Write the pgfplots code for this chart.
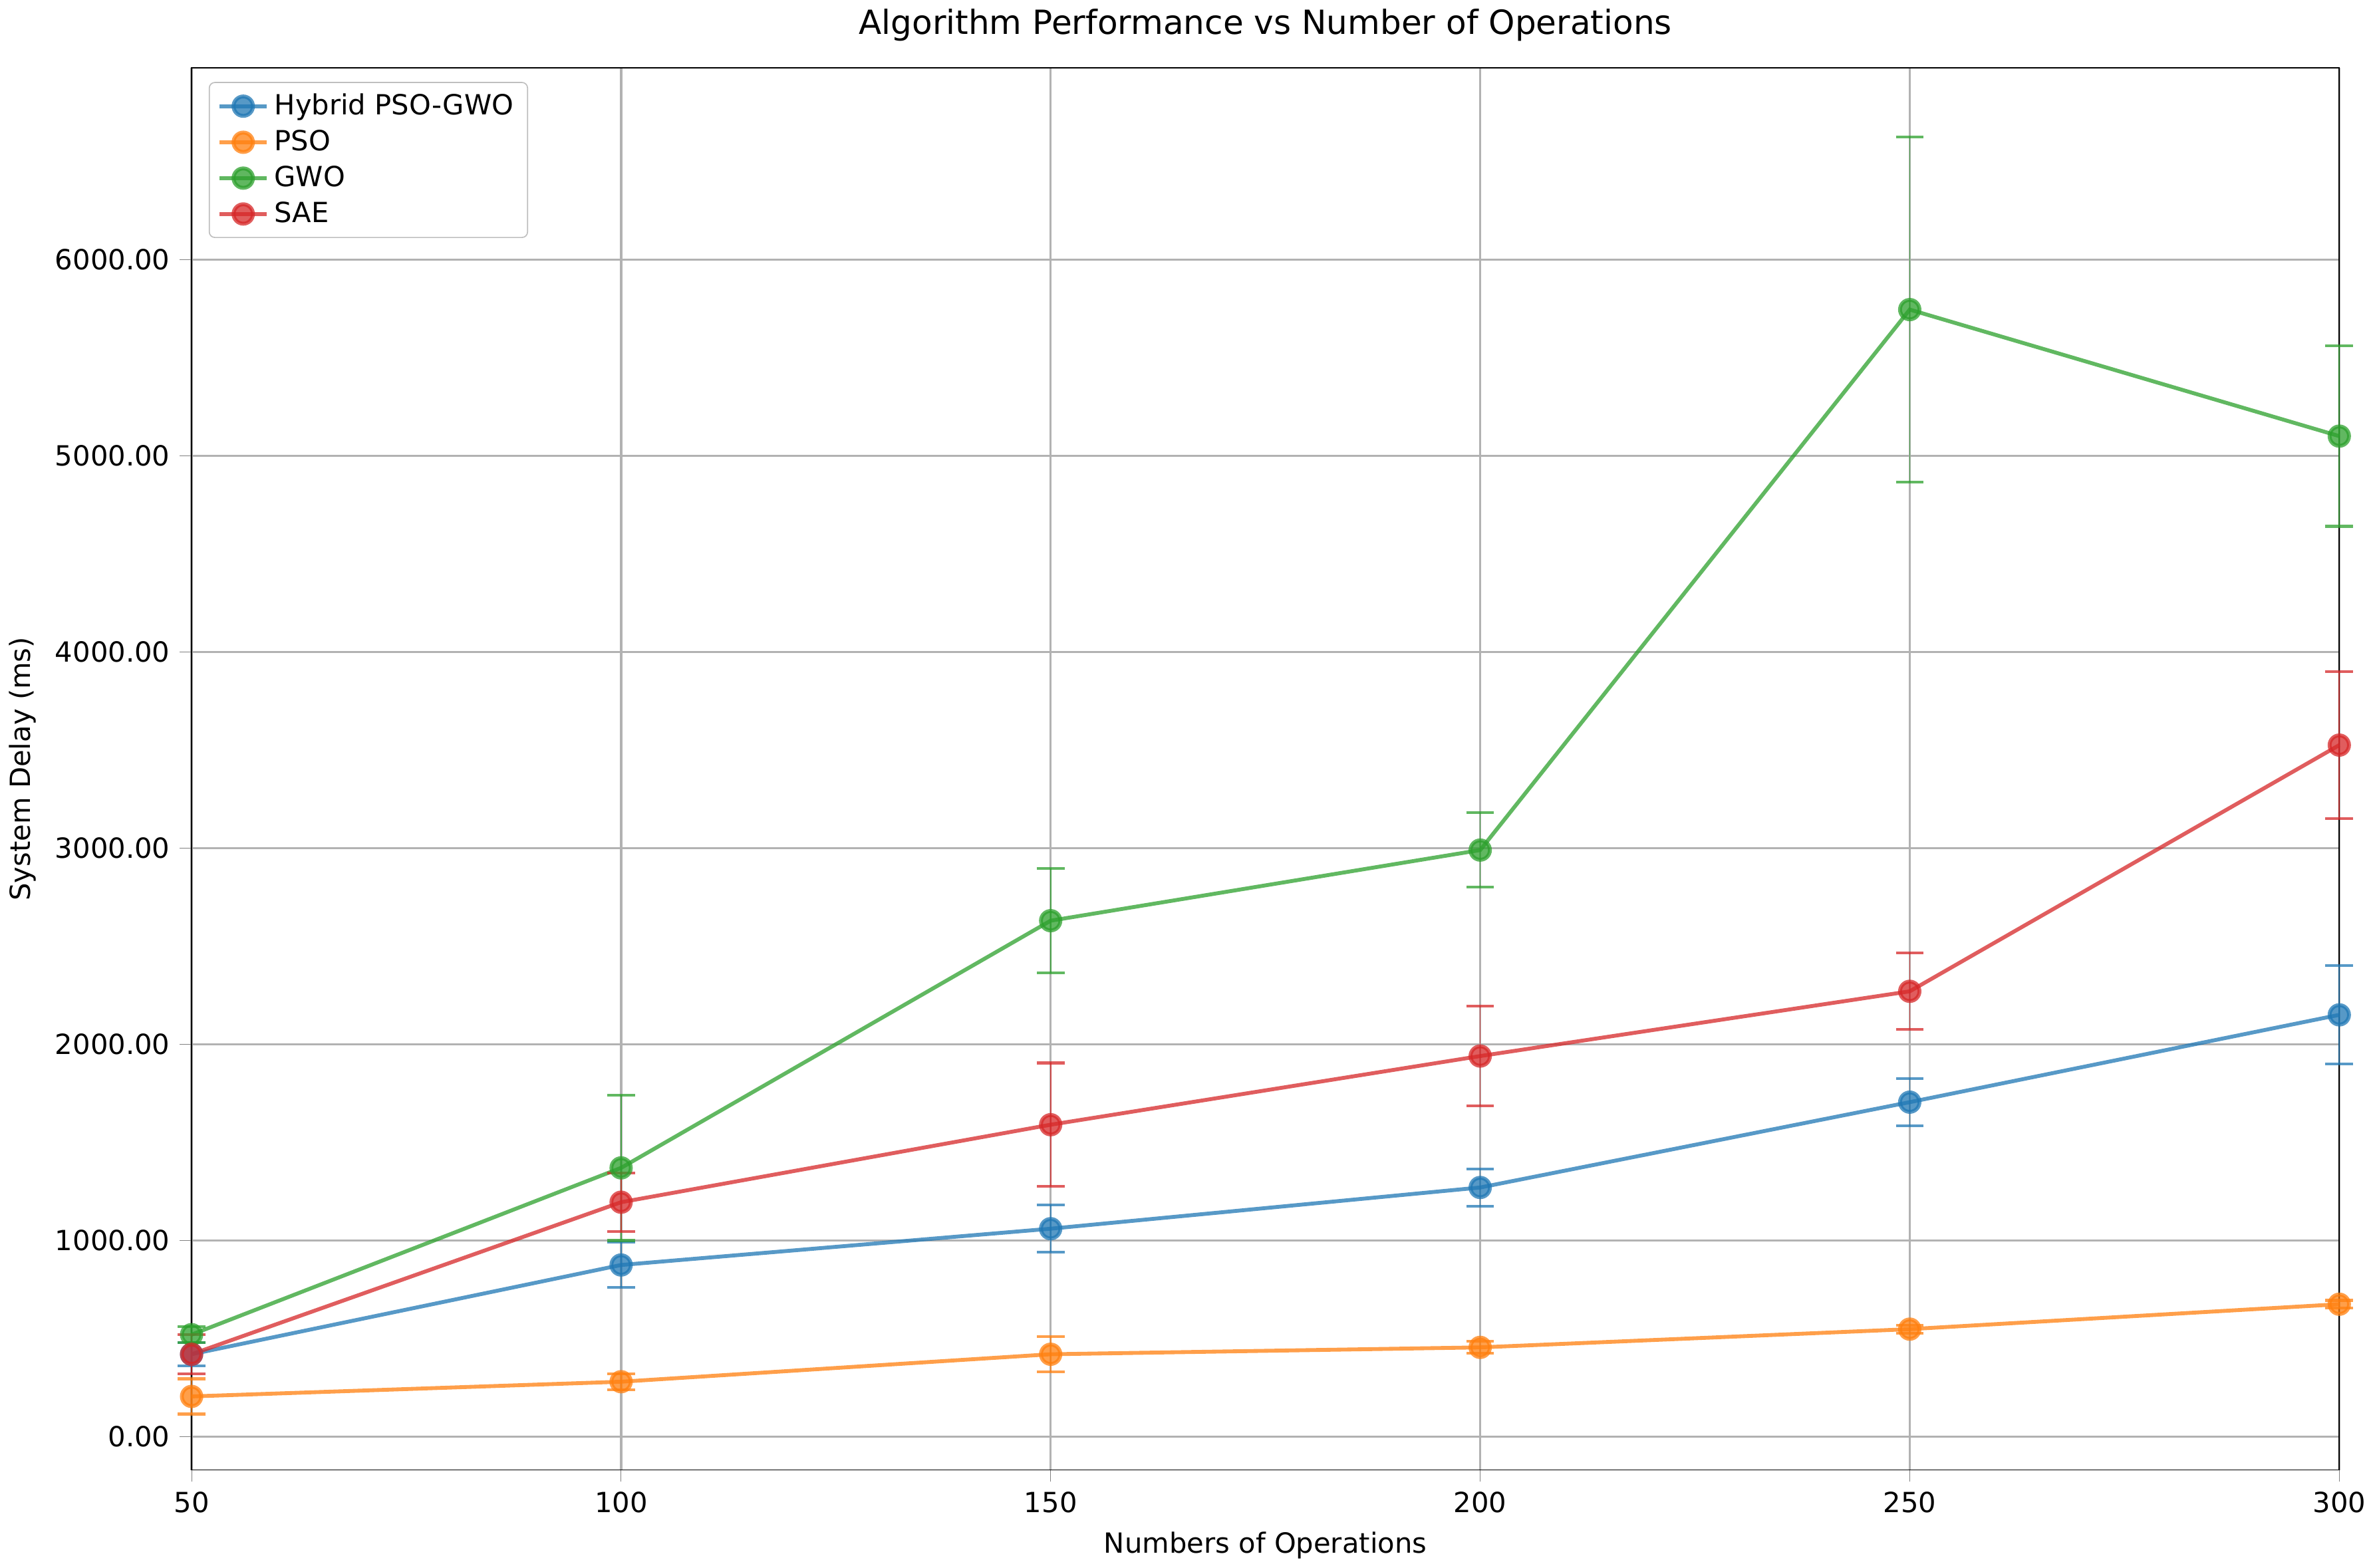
\documentclass[border=0pt]{standalone}
\usepackage{pgfplots}
\pgfplotsset{compat=1.18}
\usepackage{fontspec}
\setmainfont{DejaVu Sans}
\definecolor{c1}{HTML}{1F77B4}
\definecolor{c2}{HTML}{FF7F0E}
\definecolor{c3}{HTML}{2CA02C}
\definecolor{c4}{HTML}{D62728}
\begin{document}
\begin{tikzpicture}
\begin{axis}[
  scale only axis, width=27.2cm, height=17.76cm,
  xmin=50, xmax=300, ymin=-170, ymax=6977,
  xtick={50,100,150,200,250,300},
  ytick={0,1000,2000,3000,4000,5000,6000},
  tick align=outside, tick pos=left,
  grid=major, grid style={gray!60, line width=0.8pt},
  /pgf/number format/assume math mode=true,
  yticklabel style={/pgf/number format/.cd,fixed,fixed zerofill,precision=2,1000 sep={}},
  tick label style={font=\fontsize{10}{12}\selectfont},
  label style={font=\fontsize{10}{12}\selectfont},
  xlabel={Numbers of Operations}, ylabel={System Delay (ms)},
  title={Algorithm Performance vs Number of Operations},
  title style={font=\fontsize{12}{14}\selectfont},
  legend style={at={(0.008,0.99)}, anchor=north west, font=\fontsize{10}{12}\selectfont, draw=gray!50, rounded corners=2pt, cells={anchor=west}},
  every axis plot/.append style={line width=1.4pt, mark=*, mark size=3.5pt, opacity=0.75,
    error bars/y dir=both, error bars/y explicit,
    error bars/error mark options={rotate=90, mark size=5pt, line width=1pt}},
  clip=false,
]
\addplot[color=c1] coordinates {(50,420)+-(0,60) (100,875)+-(0,115) (150,1060)+-(0,120) (200,1270)+-(0,95) (250,1705)+-(0,120) (300,2150)+-(0,250)};
\addlegendentry{Hybrid PSO-GWO}
\addplot[color=c2] coordinates {(50,205)+-(0,90) (100,280)+-(0,40) (150,420)+-(0,90) (200,455)+-(0,30) (250,548)+-(0,20) (300,675)+-(0,20)};
\addlegendentry{PSO}
\addplot[color=c3] coordinates {(50,520)+-(0,40) (100,1370)+-(0,370) (150,2630)+-(0,265) (200,2990)+-(0,190) (250,5745)+-(0,880) (300,5100)+-(0,460)};
\addlegendentry{GWO}
\addplot[color=c4] coordinates {(50,420)+-(0,100) (100,1195)+-(0,150) (150,1590)+-(0,315) (200,1940)+-(0,255) (250,2270)+-(0,195) (300,3525)+-(0,375)};
\addlegendentry{SAE}
\end{axis}
\end{tikzpicture}
\end{document}
